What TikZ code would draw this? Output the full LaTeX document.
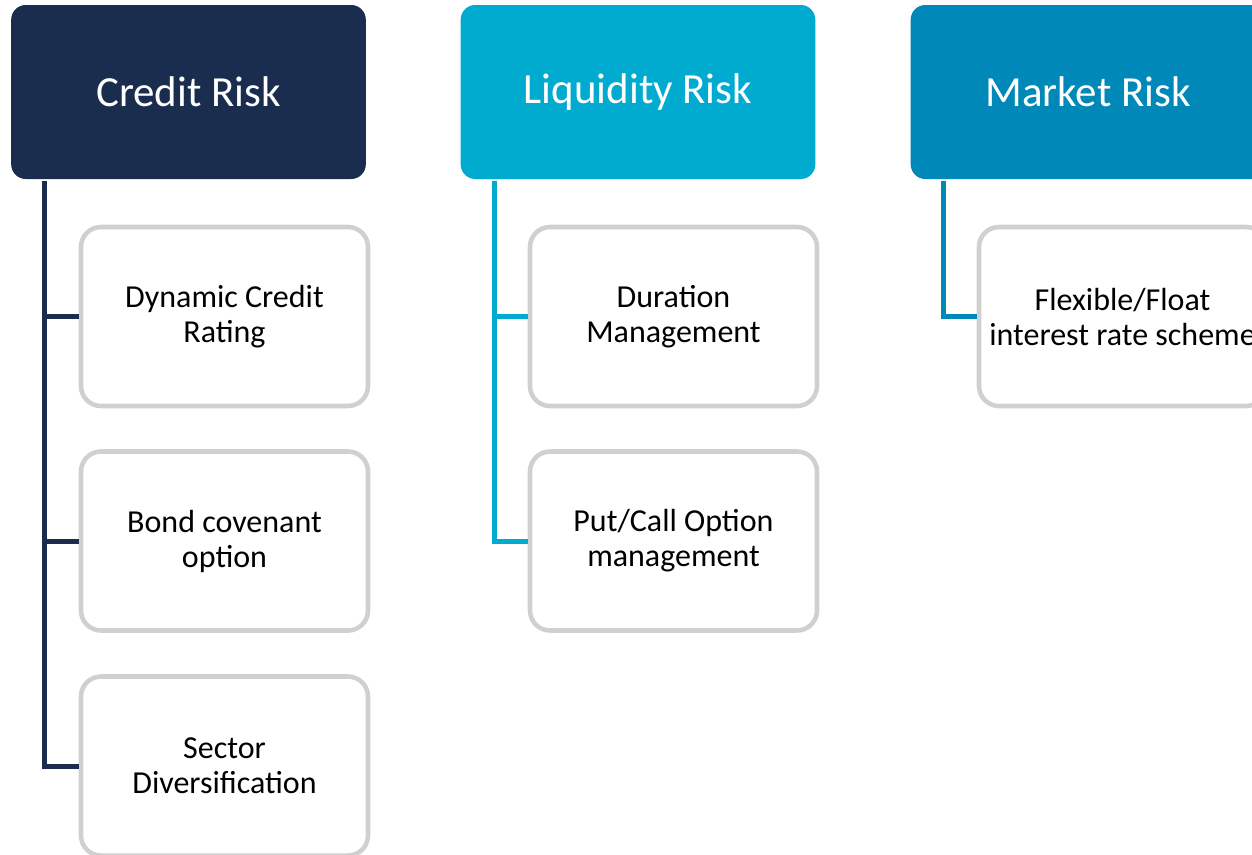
\documentclass[tikz,border=0pt]{standalone}
\usepackage{fontspec}
\setmainfont{Carlito}
\definecolor{navy}{HTML}{1B2D4E}
\definecolor{liq}{HTML}{00ABCF}
\definecolor{mkt}{HTML}{0088B9}
\definecolor{boxgray}{HTML}{D0D0D0}
\begin{document}
\begin{tikzpicture}[x=0.75pt,y=-0.75pt,
  header/.style={fill=#1, draw=none, rounded corners=11pt, minimum width=266pt, minimum height=130.5pt,
    text=white, font=\fontsize{32.2}{36}\selectfont, inner sep=0pt},
  child/.style={draw=boxgray, line width=3.4pt, rounded corners=15pt, fill=white,
    minimum width=215.25pt, minimum height=134.25pt, align=center,
    font=\fontsize{24}{26.25}\selectfont, inner sep=0pt},
  conn/.style={draw=#1, line width=3.75pt}]
\useasboundingbox (0,0) rectangle (1252,854);
% headers
\node[header=navy] (h1) at (188.5,92) {Credit Risk};
\node[header=liq] (h2) at (638,92) {Liquidity Risk};
\node[header=mkt] (h3) at (1088,92) {Market Risk};
% children
\node[child] (c11) at (224.5,316.5) {Dynamic Credit\\Rating};
\node[child] (c12) at (224.5,541) {Bond covenant\\option};
\node[child] (c13) at (224.5,766) {Sector\\Diversification};
\node[child] (c21) at (673.5,316.5) {Duration\\Management};
\node[child] (c22) at (673.5,541) {Put/Call Option\\management};
\node[child] (c31) at (1122.5,316.5) {Flexible/Float\\interest rate scheme};
% connector origins
\coordinate (o1) at (44.5,181);
\coordinate (o2) at (494,181);
\coordinate (o3) at (943,181);
\draw[conn=navy] (o1) |- (c13.west);
\draw[conn=navy] (o1 |- c11.west) -- (c11.west);
\draw[conn=navy] (o1 |- c12.west) -- (c12.west);
\draw[conn=liq] (o2) |- (c22.west);
\draw[conn=liq] (o2 |- c21.west) -- (c21.west);
\draw[conn=mkt] (o3) |- (c31.west);
\end{tikzpicture}
\end{document}
